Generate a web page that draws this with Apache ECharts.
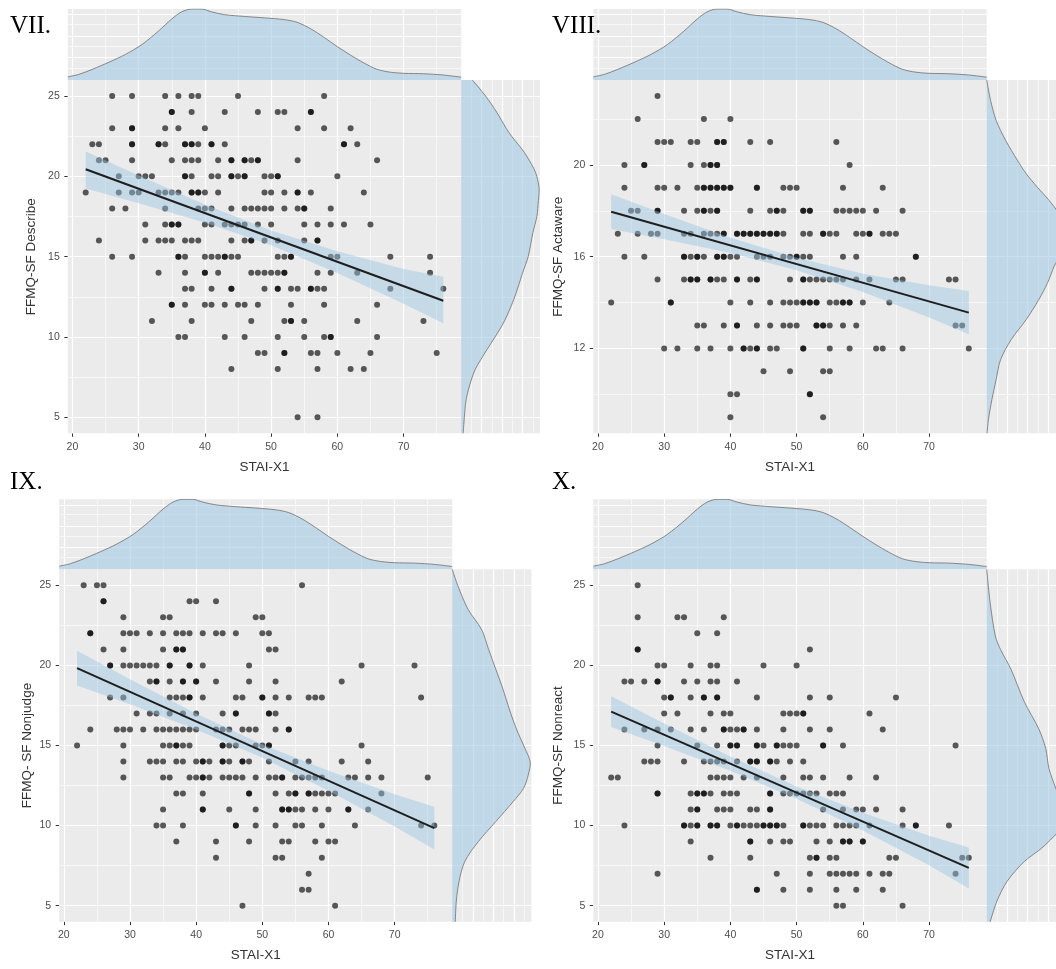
<!DOCTYPE html>
<html><head><meta charset="utf-8">
<script src="https://cdn.jsdelivr.net/npm/echarts@6/dist/echarts.min.js"></script>
<style>html,body{margin:0;padding:0;background:#fff}#c{width:1056px;height:969px}</style>
</head><body><div id="c"></div><script>
// ---------------- data ----------------
const xMajor = [20, 30, 40, 50, 60, 70];
const xMinor = [25, 35, 45, 55, 65, 75];
const xRange = [19.3, 78.7];
const fitX = [22, 30, 40, 50, 60, 70, 76];
// marginal density of STAI-X1 (x, relative density)
const staiDensity = [[19.3,0.045],[21,0.08],[23,0.15],[25.5,0.25],[28,0.36],[30.5,0.5],[33,0.69],[35,0.86],[36.5,0.96],[38,1.0],[39.5,1.0],[41,0.96],[43,0.92],[46,0.895],[49,0.875],[52,0.85],[54,0.81],[56,0.72],[58,0.6],[60,0.47],[62,0.35],[64,0.24],[66,0.15],[68,0.11],[70,0.094],[73,0.088],[76,0.07],[78.7,0.04]];
const densityTicks = [0.165, 0.32, 0.47, 0.62, 0.775, 0.915];
const sideDensityTicks = [0.13, 0.26, 0.39, 0.52, 0.65, 0.78, 0.91];

// VII. FFMQ-SF Describe : [y, [x...]]
const vii_rows = [
 [25,[26,29,34,36,38,39,45,58]],
 [24,[35,35,38,43,48,51,52,56,56]],
 [23,[26,29,29,34,36,40,54,58,62]],
 [22,[23,24,29,29,33,33,34,37,37,38,38,39,41,41,43,61,61,63]],
 [21,[24,25,29,35,37,38,39,42,44,44,46,46,47,48,48,54,66]],
 [20,[27,30,31,32,37,37,38,41,42,44,44,45,46,46,49,50,51,51,60]],
 [19,[22,27,29,30,33,34,35,36,38,38,39,39,40,42,49,50,52,54,54,56,64]],
 [18,[26,28,34,39,40,41,44,46,47,48,49,50,52,54,55,55,59]],
 [17,[31,34,35,35,36,36,40,41,43,44,45,46,48,50,55,57,59,61,65]],
 [16,[24,31,33,34,35,37,38,39,44,46,47,47,49,51,55,57,57]],
 [15,[26,29,36,36,37,40,41,42,43,43,44,45,51,52,53,53,59,60,68,74]],
 [14,[33,37,40,40,42,47,48,49,50,51,52,52,57,59,63,74]],
 [13,[37,38,41,44,44,49,51,51,53,54,56,56,57,58,68,76]],
 [12,[35,35,37,40,41,43,45,46,48,53,58,66]],
 [11,[32,38,47,52,53,53,55,63,73]],
 [10,[36,37,43,46,51,55,58,59,59,66]],
 [9,[48,49,52,52,56,57,60,65,75]],
 [8,[44,51,57,62,64]],
 [5,[54,57]]
];
const vii_line = [[22,20.44],[76,12.25]];
const vii_ciLo = [19.25,18.33,17.12,15.71,13.98,12.07,10.85];
const vii_ciHi = [21.55,20.05,18.24,16.63,15.34,14.23,13.75];
const vii_density = [[26,0.14],[25,0.31],[24,0.45],[23,0.57],[22.5,0.64],[21.5,0.8],[20.5,0.92],[20,0.96],[19.2,0.99],[18.5,0.98],[17.5,0.96],[16.5,0.91],[15,0.85],[14,0.78],[12.5,0.68],[11,0.55],[10,0.43],[9,0.3],[8,0.18],[7.5,0.14],[6.5,0.08],[5.8,0.054],[4,0.025]];
const vii_yRange = [4, 26], vii_yMajor = [5,10,15,20,25], vii_yMinor = [7.5,12.5,17.5,22.5];

// VIII. FFMQ-SF Actaware
const viii_rows = [
 [23,[29]],
 [22,[26,36,40]],
 [21,[29,30,31,34,35,38,38,39,39,43,46,56]],
 [20,[24,27,27,34,36,37,37,38,38,58]],
 [19,[24,29,30,32,35,36,36,37,37,38,38,39,39,40,40,44,44,48,49,50,57,63]],
 [18,[25,26,29,29,33,35,36,36,37,38,38,43,46,47,47,48,51,51,52,52,56,57,58,59,60,62,66]],
 [17,[23,26,28,29,33,34,36,37,38,39,39,41,41,42,42,43,43,44,44,45,45,46,46,47,47,48,51,52,54,54,55,56,59,60,61,61,63,64,65]],
 [16,[24,27,33,33,34,35,35,36,38,38,39,39,40,41,44,45,46,48,49,50,50,51,52,57,59,68,68]],
 [15,[29,33,34,34,35,35,37,37,38,39,41,41,43,44,44,49,51,51,52,53,54,55,56,57,59,61,65,66,73,74]],
 [14,[22,31,31,40,43,46,48,49,50,51,51,52,52,53,53,55,56,57,57,58,58,60,64]],
 [13,[35,36,39,41,41,44,46,48,49,50,53,53,54,54,55,57,59,74,75]],
 [12,[30,32,35,37,40,42,42,43,44,44,46,47,51,51,55,58,62,63,66,76]],
 [11,[45,49,54,55]],
 [10,[40,41,52,52]],
 [9,[40,54]]
];
const viii_line = [[22,17.96],[76,13.56]];
const viii_ciLo = [17.2,16.76,16.16,15.41,14.46,13.35,12.62];
const viii_ciHi = [18.72,17.86,16.82,15.95,15.26,14.75,14.5];
const viii_density = [[23.7,0.0],[22.8,0.05],[21.94,0.12],[21.07,0.24],[20.2,0.39],[19.62,0.5],[19.04,0.64],[18.46,0.79],[17.88,0.91],[17.0,0.965],[16.14,0.94],[15.57,0.855],[14.84,0.77],[14.12,0.66],[13.25,0.5],[12.38,0.31],[11.5,0.175],[10.64,0.12],[9.77,0.066],[8.9,0.022],[8.3,0.004]];
const viii_yRange = [8.3, 23.7], viii_yMajor = [12,16,20], viii_yMinor = [10,14,18,22];

// IX. FFMQ- SF Nonjudge
const ix_rows = [
 [25,[23,25,26,56]],
 [24,[26,26,39,40,43]],
 [23,[29,35,36,49,50]],
 [22,[24,24,29,30,31,33,35,37,38,39,41,43,44,46,50,51]],
 [21,[26,29,35,37,37,38,38,51,52]],
 [20,[27,27,29,30,31,32,33,34,36,36,39,39,41,48,65,73]],
 [19,[33,34,34,36,38,38,40,40,43,48,52,62]],
 [18,[27,29,36,37,38,39,39,41,46,47,50,50,52,54,57,58,59,74]],
 [17,[31,33,34,36,38,40,44,46,46,51,51,52]],
 [16,[24,28,29,30,32,34,35,36,37,38,39,40,43,44,45,47,48,49,52,54,54]],
 [15,[22,29,35,36,37,37,38,39,44,44,45,46,49,50,51,51,65]],
 [14,[29,33,34,35,37,38,40,41,41,42,44,44,45,47,47,48,51,55,57,62,66]],
 [13,[29,35,36,39,40,41,41,42,44,45,46,47,49,51,52,53,53,55,56,57,58,59,63,64,66,68,75]],
 [12,[37,38,41,48,48,52,54,55,55,57,57,58,59,60,61,68]],
 [11,[35,41,41,45,49,53,53,54,54,55,56,58,60,63,63,66]],
 [10,[34,35,38,46,46,49,52,55,56,59,64,74,76]],
 [9,[37,43,48,53,54,58,60,61]],
 [8,[43,52,53,59]],
 [7,[57]],
 [6,[56,57]],
 [5,[47,61]]
];
const ix_line = [[22,19.83],[76,9.84]];
const ix_ciLo = [18.74,17.57,16.0,14.23,12.18,9.95,8.5];
const ix_ciHi = [20.92,19.13,17.0,15.07,13.42,11.95,11.18];
const ix_density = [[26,0.0],[24.94,0.074],[23.5,0.2],[22.25,0.37],[21,0.46],[19.77,0.55],[18.53,0.64],[17.29,0.72],[16.04,0.81],[14.8,0.92],[13.98,0.985],[13.15,0.96],[12.32,0.9],[11.5,0.77],[10.25,0.55],[9.0,0.33],[7.77,0.16],[6.53,0.087],[5.29,0.052],[4,0.039]];
const ix_yRange = [4, 26], ix_yMajor = [5,10,15,20,25], ix_yMinor = [7.5,12.5,17.5,22.5];

// X. FFMQ-SF Nonreact
const x_rows = [
 [25,[26]],
 [23,[26,32,33,39]],
 [22,[35,38]],
 [21,[26,26,52]],
 [20,[29,30,34,37,38,45,50]],
 [19,[24,25,27,29,29,33,35,37,38,41]],
 [18,[30,31,31,34,36,36,38,38,44,52,55,65]],
 [17,[30,32,37,39,40,48,49,50,51,51,61]],
 [16,[24,27,29,31,34,36,39,39,40,41,42,42,44,48,52,55,63]],
 [15,[29,35,38,40,40,41,41,44,44,45,47,47,48,49,50,54,54,57,74]],
 [14,[27,28,29,33,36,37,38,39,41,43,43,44,44,46,46,47,49,51]],
 [13,[22,23,37,38,39,40,42,44,48,51,52,54,58,62]],
 [12,[29,29,34,35,35,36,36,37,39,40,41,46,46,48,49,50,51,52,53,55,56,57]],
 [11,[34,35,35,38,39,40,43,44,46,46,54,57,59,60,62,66]],
 [10,[24,33,33,34,35,35,37,37,38,38,40,41,41,42,43,44,45,45,46,46,47,47,48,51,51,52,53,54,56,57,58,59,61,66,68,68,73]],
 [9,[34,43,43,46,48,49,53,55,57,57,58,58,60,60]],
 [8,[37,43,52,53,53,55,56,64,65,75,76]],
 [7,[29,47,52,55,56,57,58,59,61,63,64,74]],
 [6,[44,44,48,52,56,59,63]],
 [5,[56,57,66]]
];
const x_line = [[22,17.12],[76,7.36]];
const x_ciLo = [16.16,14.97,13.42,11.68,9.7,7.53,6.08];
const x_ciHi = [18.08,16.37,14.32,12.44,10.8,9.37,8.64];
const x_density = [[26,0.0],[23.9,0.044],[21.83,0.11],[21,0.175],[19.77,0.307],[17.7,0.48],[16.05,0.66],[14.8,0.75],[13.56,0.79],[12.32,0.877],[11.08,0.97],[10.25,1.0],[9.63,0.91],[8.6,0.70],[7.77,0.48],[6.53,0.26],[5.29,0.13],[4,0.044]];
const x_yRange = [4, 26], x_yMajor = [5,10,15,20,25], x_yMinor = [7.5,12.5,17.5,22.5];

// ---------------- layout / style ----------------
const BG = '#EBEBEB';
const FILL = 'rgba(165,204,228,0.62)';
const BAND = 'rgba(150,195,225,0.45)';
const SANS = "'Liberation Sans', Arial, sans-serif";
const SERIF = "'Liberation Serif', 'Times New Roman', serif";
const MAJ = 1.2, MIN = 0.6;

const panels = [
 {label:'VII.', lpos:[10,13.6], yName:'FFMQ-SF Describe', rows:vii_rows, line:vii_line, lo:vii_ciLo, hi:vii_ciHi, dens:vii_density, yRange:vii_yRange, yMajor:vii_yMajor, yMinor:vii_yMinor,
  main:{left:67.8, top:80, width:393.4, height:353.3}, top:{left:67.8, top:9, width:393.4, height:71}, side:{left:461.2, top:80, width:78.8, height:353.3}, yGap:30},
 {label:'VIII.', lpos:[552,13.6], yName:'FFMQ-SF Actaware', rows:viii_rows, line:viii_line, lo:viii_ciLo, hi:viii_ciHi, dens:viii_density, yRange:viii_yRange, yMajor:viii_yMajor, yMinor:viii_yMinor,
  main:{left:593.3, top:80, width:393.4, height:353.3}, top:{left:593.3, top:9, width:393.4, height:71}, side:{left:986.7, top:80, width:78.8, height:353.3}, yGap:28},
 {label:'IX.', lpos:[10,470.3], yName:'FFMQ- SF Nonjudge', rows:ix_rows, line:ix_line, lo:ix_ciLo, hi:ix_ciHi, dens:ix_density, yRange:ix_yRange, yMajor:ix_yMajor, yMinor:ix_yMinor,
  main:{left:59.2, top:569.3, width:393, height:352.4}, top:{left:59.2, top:499.3, width:393, height:70}, side:{left:452.2, top:569.3, width:79.2, height:352.4}, yGap:25},
 {label:'X.', lpos:[552,470.3], yName:'FFMQ-SF Nonreact', rows:x_rows, line:x_line, lo:x_ciLo, hi:x_ciHi, dens:x_density, yRange:x_yRange, yMajor:x_yMajor, yMinor:x_yMinor,
  main:{left:593.3, top:569.3, width:393.4, height:352.4}, top:{left:593.3, top:499.3, width:393.4, height:70}, side:{left:986.7, top:569.3, width:78.8, height:352.4}, yGap:28}
];

function rowsToPoints(rows){ const out=[]; rows.forEach(([y,xs])=>xs.forEach(x=>out.push([x,y]))); return out; }
function gridLines(ai, xs, ys){
  return {type:'scatter', xAxisIndex:ai, yAxisIndex:ai, data:[], silent:true, z:1, zlevel:0,
    markLine:{silent:true, z:1, zlevel:0, symbol:['none','none'], animation:false, label:{show:false}, emphasis:{disabled:true},
      lineStyle:{color:'#ffffff', type:'solid', width:1, opacity:1},
      data:[...xs.map(([v,w])=>({xAxis:v, lineStyle:{color:'#ffffff', type:'solid', width:w}})),
            ...ys.map(([v,w])=>({yAxis:v, lineStyle:{color:'#ffffff', type:'solid', width:w}}))]}};
}
const gridBase = {show:true, backgroundColor:BG, borderWidth:0, containLabel:false, outerBoundsMode:'none'};
const grids=[], xAxes=[], yAxes=[], series=[], titles=[];
const mj = a=>a.map(v=>[v,MAJ]), mn = a=>a.map(v=>[v,MIN]);

panels.forEach((p,i)=>{
  const g = grids.length;
  grids.push(Object.assign({}, gridBase, p.main));
  grids.push(Object.assign({}, gridBase, p.top));
  grids.push(Object.assign({}, gridBase, p.side));
  titles.push({text:p.label, left:p.lpos[0], top:p.lpos[1], padding:0, textStyle:{fontFamily:SERIF, fontSize:25, fontWeight:'normal', color:'#000'}});
  xAxes.push({gridIndex:g, type:'value', min:xRange[0], max:xRange[1], name:'STAI-X1', nameLocation:'middle', nameGap:27,
    nameTextStyle:{fontFamily:SANS, fontSize:13.5, color:'#333'},
    axisLine:{show:false}, splitLine:{show:false},
    axisTick:{show:true, customValues:xMajor, length:3.5, lineStyle:{color:'#333', width:1}},
    axisLabel:{customValues:xMajor, margin:8, fontFamily:SANS, fontSize:10.5, color:'#4d4d4d'}});
  yAxes.push({gridIndex:g, type:'value', min:p.yRange[0], max:p.yRange[1], name:p.yName, nameLocation:'middle', nameGap:p.yGap,
    nameTextStyle:{fontFamily:SANS, fontSize:13.5, color:'#333'},
    axisLine:{show:false}, splitLine:{show:false},
    axisTick:{show:true, customValues:p.yMajor, length:3.5, lineStyle:{color:'#333', width:1}},
    axisLabel:{customValues:p.yMajor, margin:8, fontFamily:SANS, fontSize:10.5, color:'#4d4d4d'}});
  xAxes.push({gridIndex:g+1, type:'value', min:xRange[0], max:xRange[1], show:false});
  yAxes.push({gridIndex:g+1, type:'value', min:0, max:1, show:false});
  xAxes.push({gridIndex:g+2, type:'value', min:0, max:1, show:false});
  yAxes.push({gridIndex:g+2, type:'value', min:p.yRange[0], max:p.yRange[1], show:false});

  // grid lines
  series.push(gridLines(g, mj(xMajor).concat(mn(xMinor)), mj(p.yMajor).concat(mn(p.yMinor))));
  series.push(gridLines(g+1, mj(xMajor).concat(mn(xMinor)), densityTicks.map((v,k)=>[v, k%2?MAJ:MIN])));
  series.push(gridLines(g+2, sideDensityTicks.map((v,k)=>[v, k%2?MAJ:MIN]), mj(p.yMajor).concat(mn(p.yMinor))));

  // points
  series.push({type:'scatter', xAxisIndex:g, yAxisIndex:g, data:rowsToPoints(p.rows), symbolSize:6, silent:true, z:3,
    itemStyle:{color:'#000', opacity:0.64}});
  // confidence band
  series.push({type:'custom', xAxisIndex:g, yAxisIndex:g, data:[0], silent:true, z:4,
    renderItem:(params, api)=>{
      const up = fitX.map((x,k)=>api.coord([x,p.hi[k]]));
      const dn = fitX.map((x,k)=>api.coord([x,p.lo[k]])).reverse();
      return {type:'polygon', shape:{points:up.concat(dn), smooth:0}, style:{fill:BAND, stroke:null}};
    }});
  // regression line
  series.push({type:'line', xAxisIndex:g, yAxisIndex:g, data:p.line, symbol:'none', silent:true, z:5,
    lineStyle:{color:'#1e1e1e', width:2}});
  // top marginal density
  series.push({type:'line', xAxisIndex:g+1, yAxisIndex:g+1, data:staiDensity, smooth:0.3, symbol:'none', silent:true, z:2,
    lineStyle:{color:'#7c7c7c', width:0.9}, areaStyle:{color:FILL, opacity:1}});
  // side marginal density
  series.push({type:'custom', xAxisIndex:g+2, yAxisIndex:g+2, data:[0], silent:true, z:2,
    renderItem:(params, api)=>{
      const pts = p.dens.map(([y,d])=>api.coord([d,y]));
      const b1 = api.coord([0, p.dens[p.dens.length-1][0]]);
      const b0 = api.coord([0, p.dens[0][0]]);
      const poly = pts.concat([b1, b0]);
      const xs = poly.map(q=>q[0]), ys = poly.map(q=>q[1]);
      const cons = [[Math.min(...xs), Math.min(...ys)], [Math.max(...xs), Math.max(...ys)]];
      return {type:'group', children:[
        {type:'polygon', shape:{points:poly, smooth:0.3, smoothConstraint:cons}, style:{fill:FILL, stroke:null}},
        {type:'polyline', shape:{points:pts, smooth:0.3}, style:{fill:null, stroke:'#7c7c7c', lineWidth:0.9}}
      ]};
    }});
});

const chart = echarts.init(document.getElementById('c'), null, {renderer:'canvas'});
chart.setOption({animation:false, backgroundColor:'#ffffff', title:titles, grid:grids, xAxis:xAxes, yAxis:yAxes, series:series});
</script></body></html>
